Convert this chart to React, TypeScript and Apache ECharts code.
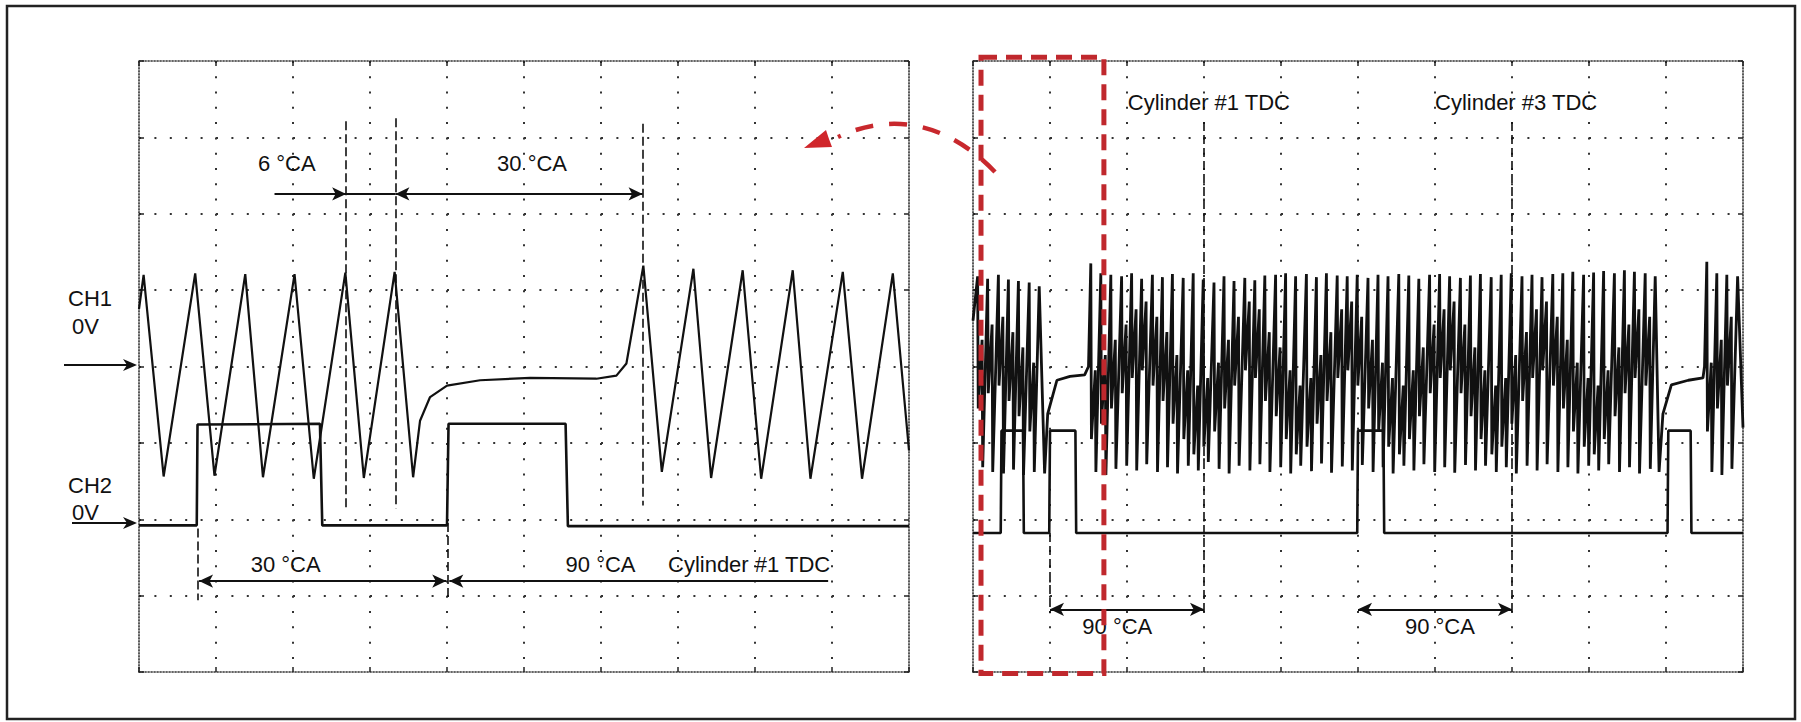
import React, { useEffect, useRef } from "react";
import * as echarts from "echarts";

const W = 1801;
const H = 722;

// ---------- DATA (x in divisions 0..10, y in divisions 0..8) ----------
const leftCh1: number[][] = [
  [0.0, 4.75], [0.06, 5.2], [0.32, 2.56], [0.73, 5.22], [0.98, 2.57], [1.38, 5.21], [1.61, 2.55],
  [2.02, 5.21], [2.27, 2.53], [2.68, 5.23], [2.92, 2.54], [3.32, 5.24], [3.56, 2.55],
  [3.65, 3.29], [3.78, 3.6], [4.0, 3.75], [4.43, 3.82], [5.08, 3.85], [5.94, 3.84], [6.2, 3.88],
  [6.33, 4.04], [6.42, 4.56], [6.55, 5.32], [6.79, 2.62], [7.2, 5.28], [7.43, 2.54], [7.84, 5.26],
  [8.08, 2.53], [8.49, 5.26], [8.72, 2.53], [9.14, 5.24], [9.39, 2.53], [9.79, 5.22], [10.0, 2.9],
];

const leftCh2: number[][] = [
  [0, 1.92], [0.75, 1.92], [0.76, 3.24], [2.35, 3.25], [2.38, 1.92], [4.0, 1.92], [4.02, 3.25],
  [5.54, 3.25], [5.57, 1.91], [10, 1.91],
];

// right panel teeth: [peak x, peak v, trough v, middle-band centre v]
const rightTeethA: number[][] = [
  [0.06, 5.18, 2.68, 3.9], [0.19, 5.15, 2.62, 4.1], [0.33, 5.2, 2.6, 4.2], [0.46, 5.14, 2.65, 4.0],
  [0.59, 5.12, 2.58, 3.8], [0.73, 5.1, 2.62, 3.6], [0.86, 5.05],
];
const rightGap1: number[][] = [[0.93, 2.6], [0.97, 3.38], [1.09, 3.82], [1.26, 3.87], [1.45, 3.89], [1.5, 4.0]];
const rightTeethB: number[][] = [
  [1.53, 5.35, 2.62, 3.5], [1.66, 5.22, 2.58, 3.7], [1.79, 5.2, 2.66, 3.9], [1.93, 5.18, 2.7, 4.1],
  [2.06, 5.22, 2.64, 4.3], [2.19, 5.15, 2.72, 4.4], [2.33, 5.2, 2.62, 4.2], [2.46, 5.17, 2.68, 4.0],
  [2.59, 5.21, 2.6, 3.7], [2.73, 5.16, 2.7, 3.5], [2.86, 5.22, 2.64, 3.3], [2.99, 5.14, 2.75, 3.4],
  [3.13, 5.1, 2.66, 3.6], [3.26, 5.18, 2.6, 3.9], [3.39, 5.12, 2.7, 4.2], [3.53, 5.16, 2.64, 4.4],
  [3.66, 5.13, 2.72, 4.3], [3.79, 5.19, 2.62, 4.0], [3.93, 5.2, 2.68, 3.8], [4.06, 5.22, 2.6, 3.5],
  [4.19, 5.18, 2.7, 3.3], [4.33, 5.21, 2.63, 3.4], [4.46, 5.17, 2.73, 3.7], [4.59, 5.22, 2.61, 4.0],
  [4.73, 5.19, 2.69, 4.3], [4.86, 5.18, 2.64, 4.4], [4.99, 5.2, 2.71, 4.2], [5.13, 5.16, 2.62, 3.9],
  [5.26, 5.2, 2.68, 3.6], [5.39, 5.18, 2.6, 3.4], [5.53, 5.21, 2.7, 3.3], [5.66, 5.19, 2.64, 3.5],
  [5.79, 5.15, 2.72, 3.8], [5.93, 5.2, 2.62, 4.1], [6.06, 5.21, 2.68, 4.3], [6.19, 5.18, 2.61, 4.4],
  [6.33, 5.16, 2.71, 4.1], [6.46, 5.19, 2.64, 3.8], [6.59, 5.21, 2.7, 3.5], [6.73, 5.17, 2.62, 3.3],
  [6.86, 5.2, 2.68, 3.4], [6.99, 5.22, 2.6, 3.7], [7.13, 5.18, 2.7, 4.0], [7.26, 5.2, 2.64, 4.3],
  [7.39, 5.17, 2.72, 4.4], [7.53, 5.21, 2.62, 4.2], [7.66, 5.22, 2.68, 3.9], [7.79, 5.24, 2.6, 3.6],
  [7.93, 5.2, 2.7, 3.4], [8.06, 5.23, 2.64, 3.3], [8.19, 5.25, 2.72, 3.5], [8.33, 5.22, 2.62, 3.8],
  [8.46, 5.26, 2.68, 4.1], [8.59, 5.24, 2.6, 4.3], [8.73, 5.22, 2.66, 4.2], [8.86, 5.18],
];
const rightGap2: number[][] = [[8.91, 2.62], [8.96, 3.38], [9.07, 3.76], [9.29, 3.82], [9.48, 3.85], [9.5, 4.0]];
const rightTeethC: number[][] = [
  [9.53, 5.37, 2.62, 3.6], [9.66, 5.22, 2.58, 3.9], [9.79, 5.2, 2.66, 4.2], [9.93, 5.18],
];
const rightLead: number[][] = [[0, 4.6]];
const rightTail: number[][] = [[10, 3.2]];

const rightCh2: number[][] = [
  [0, 1.82], [0.36, 1.82], [0.37, 3.16], [0.65, 3.16], [0.66, 1.82], [0.99, 1.82], [1.0, 3.16],
  [1.33, 3.16], [1.34, 1.82], [4.99, 1.82], [5.0, 3.16], [5.33, 3.16], [5.34, 1.82], [9.02, 1.82],
  [9.03, 3.16], [9.32, 3.16], [9.33, 1.82], [10, 1.82],
];

// dashed marker lines [x, yTop, yBottom]
const leftDashed: number[][] = [[0.76, 1.88, 0.94], [2.69, 7.21, 2.14], [3.33, 7.25, 2.14], [4.01, 1.95, 0.94], [6.54, 7.18, 2.18]];
const rightDashed: number[][] = [[1.0, 1.82, 0.77], [3.0, 7.2, 0.77], [7.0, 7.2, 0.77]];

// arrows [x1, x2, y, startHead, endHead]
const leftArrows: (number | boolean)[][] = [
  [1.76, 2.69, 6.26, false, true],
  [2.69, 3.33, 6.26, false, false],
  [3.33, 6.54, 6.26, true, true],
  [0.78, 3.99, 1.19, true, true],
  [4.03, 8.95, 1.19, true, false],
];
const rightArrows: (number | boolean)[][] = [
  [1.0, 3.0, 0.82, true, true],
  [5.0, 7.0, 0.82, true, true],
];

// annotations [text, x, y]
const leftNotes: (string | number)[][] = [
  ["6 °CA", 1.545, 6.66],
  ["30 °CA", 4.65, 6.66],
  ["30 °CA", 1.45, 1.41],
  ["90 °CA", 5.54, 1.41],
  ["Cylinder #1 TDC", 6.87, 1.41],
];
const rightNotes: (string | number)[][] = [
  ["Cylinder #1 TDC", 2.01, 7.46],
  ["Cylinder #3 TDC", 6.0, 7.46],
  ["90 °CA", 1.42, 0.59],
  ["90 °CA", 5.61, 0.59],
];

// tooth drawing shape (sampled look): stroke down from the peak, cross the middle band, stroke down to the trough
const A_DX = 0.008;
const B_DX = 0.058;
const T_DX = 0.066;
const LOOP = 0.45;

function buildRight(): number[][] {
  const out: number[][] = [...rightLead];
  const addTeeth = (teeth: number[][]) => {
    teeth.forEach((t) => {
      out.push([t[0], t[1]]);
      if (t.length > 2) {
        out.push([t[0] + A_DX, t[3] - LOOP]);
        out.push([t[0] + B_DX, t[3] + LOOP]);
        out.push([t[0] + T_DX, t[2]]);
      }
    });
  };
  addTeeth(rightTeethA);
  out.push(...rightGap1);
  addTeeth(rightTeethB);
  out.push(...rightGap2);
  addTeeth(rightTeethC);
  out.push(...rightTail);
  return out;
}

const FONT = '"Liberation Sans", Arial, sans-serif';
const INK = "#111";

function axisPair(grid: number, which: "x" | "y") {
  const border = { show: true, onZero: false, lineStyle: { color: "#333", width: 1.6, type: [1.2, 1.8] as any } };
  const tick = { show: true, inside: true, length: 5, lineStyle: { color: "#222", width: 1.5 } };
  const range = which === "x" ? { min: 0, max: 10, interval: 1 } : { min: 0, max: 8, interval: 1 };
  const dash = which === "x" ? [2, 13.28] : [2, 13.4];
  return [
    {
      gridIndex: grid, type: "value", ...range,
      position: which === "x" ? "bottom" : "left",
      axisLine: border, axisTick: tick, axisLabel: { show: false },
      splitLine: { show: true, showMinLine: false, showMaxLine: false, lineStyle: { color: "#333", width: 2, type: dash } },
    },
    {
      gridIndex: grid, type: "value", ...range,
      position: which === "x" ? "top" : "right",
      axisLine: border, axisTick: tick, axisLabel: { show: false }, splitLine: { show: false },
    },
  ];
}

function markLines(dashed: number[][], arrows: (number | boolean)[][]) {
  const data: any[] = [];
  dashed.forEach((d) => {
    data.push([
      { coord: [d[0], d[1]], symbol: "none", lineStyle: { type: [9, 4], width: 1.6, color: INK } },
      { coord: [d[0], d[2]], symbol: "none" },
    ]);
  });
  arrows.forEach((a) => {
    data.push([
      { coord: [a[0], a[2]], symbol: a[3] ? "arrow" : "none", lineStyle: { type: "solid", width: 1.8, color: INK } },
      { coord: [a[1], a[2]], symbol: a[4] ? "arrow" : "none" },
    ]);
  });
  return {
    silent: true,
    symbol: ["none", "none"],
    symbolSize: [10, 14],
    label: { show: false },
    lineStyle: { color: INK, width: 1.6 },
    emphasis: { disabled: true },
    animation: false,
    data,
  };
}

export default function App() {
  const ref = useRef<HTMLDivElement>(null);
  useEffect(() => {
    document.body.style.margin = "0";
    const chart = echarts.init(ref.current!, null, { renderer: "svg", width: W, height: H });
    const option: any = {
      animation: false,
      backgroundColor: "#fff",
      grid: [
        { left: 139, top: 61, width: 770, height: 611 },
        { left: 973, top: 61, width: 770, height: 611 },
      ],
      xAxis: [...axisPair(0, "x"), ...axisPair(1, "x")],
      yAxis: [...axisPair(0, "y"), ...axisPair(1, "y")],
      series: [
        {
          type: "line", xAxisIndex: 0, yAxisIndex: 0, data: leftCh1, symbol: "none", showSymbol: false,
          lineStyle: { color: INK, width: 2.2 }, z: 3,
        },
        {
          type: "line", xAxisIndex: 0, yAxisIndex: 0, data: leftCh2, symbol: "none", showSymbol: false,
          lineStyle: { color: INK, width: 2.6 }, z: 3, markLine: markLines(leftDashed, leftArrows),
        },
        {
          type: "line", xAxisIndex: 2, yAxisIndex: 2, data: buildRight(), symbol: "none", showSymbol: false,
          lineStyle: { color: INK, width: 2.8 }, z: 3,
        },
        {
          type: "line", xAxisIndex: 2, yAxisIndex: 2, data: rightCh2, symbol: "none", showSymbol: false,
          lineStyle: { color: INK, width: 2.6 }, z: 3, markLine: markLines(rightDashed, rightArrows),
        },
      ],
    };
    chart.setOption(option);

    const px = (g: number, p: number[]) => chart.convertToPixel({ gridIndex: g }, p) as number[];
    const textEl = (t: string, x: number, y: number, align = "left") => ({
      type: "text", x, y, z: 20,
      style: {
        text: t, fill: INK, fontSize: 22, fontFamily: FONT,
        textAlign: align, align, textVerticalAlign: "middle", verticalAlign: "middle",
      },
    });
    const graphics: any[] = [];
    graphics.push({
      type: "rect", z: 1, shape: { x: 7, y: 6, width: 1788, height: 713 },
      style: { fill: null, stroke: "#222", lineWidth: 2.5 },
    });
    leftNotes.forEach((n) => {
      const p = px(0, [n[1] as number, n[2] as number]);
      graphics.push(textEl(n[0] as string, p[0], p[1]));
    });
    rightNotes.forEach((n) => {
      const p = px(1, [n[1] as number, n[2] as number]);
      graphics.push(textEl(n[0] as string, p[0], p[1]));
    });
    // channel labels
    const ch1y = px(0, [0, 4.02])[1];
    const ch2y = px(0, [0, 1.95])[1];
    graphics.push(textEl("CH1", 68, ch1y - 66));
    graphics.push(textEl("0V", 72, ch1y - 38));
    graphics.push(textEl("CH2", 68, ch2y - 38));
    graphics.push(textEl("0V", 72, ch2y - 11));
    [[64, ch1y], [72, ch2y]].forEach(([x0, y]) => {
      graphics.push({ type: "line", z: 20, shape: { x1: x0, y1: y, x2: 130, y2: y }, style: { stroke: INK, lineWidth: 2 } });
      graphics.push({
        type: "polygon", z: 20,
        shape: { points: [[137, y], [123, y - 6], [127, y], [123, y + 6]] },
        style: { fill: INK },
      });
    });
    // red dashed box
    const r1 = px(1, [0.104, 8.05]);
    const r2 = px(1, [1.7, -0.02]);
    graphics.push({
      type: "rect", z: 30,
      shape: { x: r1[0], y: r1[1], width: r2[0] - r1[0], height: r2[1] - r1[1] },
      style: { fill: null, stroke: "#c0282d", lineWidth: 5, lineDash: [16, 9] },
    });
    // red curved arrow
    graphics.push({
      type: "bezierCurve", z: 30,
      shape: { x1: 995, y1: 172, cpx1: 955, cpy1: 130, cpx2: 900, cpy2: 108, x2: 838, y2: 137 },
      style: { fill: null, stroke: "#c8282d", lineWidth: 4.5, lineDash: [18, 16] },
    });
    graphics.push({
      type: "polygon", z: 30,
      shape: { points: [[804, 148], [826, 130], [829, 139], [832, 147]] },
      style: { fill: "#d0262b" },
    });
    chart.setOption({ graphic: graphics });
    return () => chart.dispose();
  }, []);
  return <div ref={ref} style={{ position: "absolute", left: 0, top: 0, width: W, height: H, background: "#fff" }} />;
}
